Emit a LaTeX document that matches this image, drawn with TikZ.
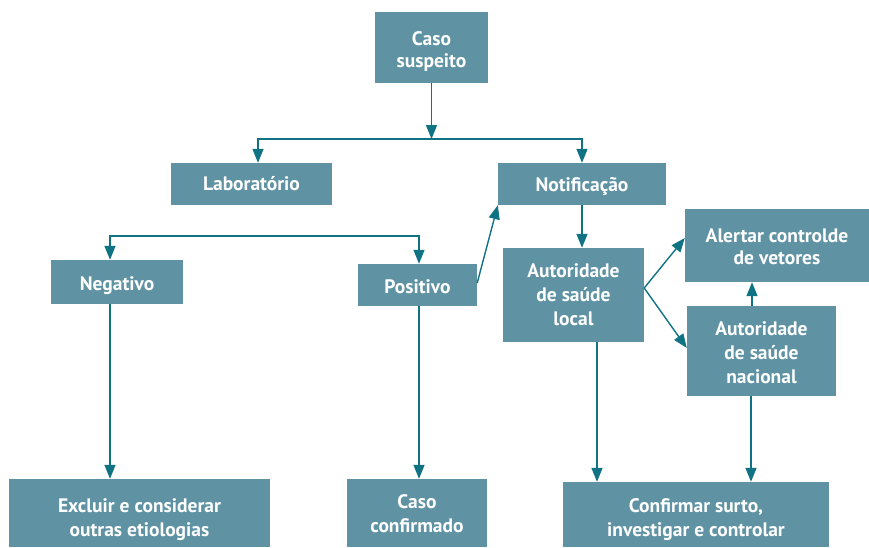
\documentclass[tikz,border=0pt]{standalone}
\usepackage{fontspec}
\setmainfont{PT Sans}
\usetikzlibrary{arrows.meta}
\definecolor{boxfill}{HTML}{5F93A3}
\definecolor{arrcol}{HTML}{0F7383}
\begin{document}
\begin{tikzpicture}[x=1pt,y=-1pt,
  box/.style={fill=boxfill,inner sep=0pt,anchor=center},
  bt/.style={text=white,font=\fontsize{19.5}{24}\selectfont\bfseries,align=center,inner sep=0pt},
  btn/.style={bt,font=\fontsize{19.5}{22.3}\selectfont\bfseries},
  arr/.style={draw=arrcol,line width=1.4pt,-{Triangle[length=14pt,width=11pt]}}]
\useasboundingbox (0,0) rectangle (869,547);
\node[box,minimum width=113pt,minimum height=71pt,
  label={[btn,yshift=-4pt]center:{Caso\\suspeito}}] (caso) at (431.5,47.5) {};
\node[box,minimum width=161pt,minimum height=42pt,
  label={[bt,yshift=0pt]center:{Laboratório}}] (lab) at (251.5,184) {};
\node[box,minimum width=168pt,minimum height=42pt,
  label={[bt,yshift=-2pt]center:{Notificação}}] (notif) at (582,184) {};
\node[box,minimum width=132pt,minimum height=44pt,
  label={[bt,yshift=-4pt]center:{Negativo}}] (neg) at (117,282) {};
\node[box,minimum width=119pt,minimum height=42pt,
  label={[bt,yshift=-1.5pt]center:{Positivo}}] (pos) at (417.5,285) {};
\node[box,minimum width=141pt,minimum height=94pt,
  label={[bt,yshift=0pt]center:{Autoridade\\de saúde\\local}}] (loc) at (573.5,295) {};
\node[box,minimum width=184pt,minimum height=73pt,
  label={[btn,yshift=-1pt]center:{Alertar controlde\\de vetores}}] (alert) at (777,245.5) {};
\node[box,minimum width=149pt,minimum height=90pt,
  label={[bt,yshift=-2pt]center:{Autoridade\\de saúde\\nacional}}] (nac) at (761.5,351) {};
\node[box,minimum width=261pt,minimum height=68pt,
  label={[bt,yshift=-7pt]center:{Excluir e considerar\\outras etiologias}}] (excl) at (139.5,513) {};
\node[box,minimum width=140pt,minimum height=68pt,
  label={[bt,yshift=-1pt]center:{Caso\\confirmado}}] (conf) at (417,513) {};
\node[box,minimum width=266pt,minimum height=65pt,
  label={[bt,yshift=-5pt]center:{Confirmar surto,\\investigar e controlar}}] (surto) at (696,514.5) {};
\coordinate (j1) at (431.5,139);
\coordinate (j2) at (264.5,236);
% top branch
\draw[arr] (caso.south) -- (j1);
\draw[arr] (j1) -| ([xshift=6.5pt]lab.north);
\draw[arr] (j1) -| (notif.north);
% lab results branch
\draw[arr] (j2) -| ([xshift=-7pt]neg.north);
\draw[arr] (j2) -| ([xshift=1.5pt]pos.north);
% positivo to notificacao
\draw[arr] ([yshift=2pt]pos.east) -- (notif.south west);
% notificacao to local
\draw[arr] (notif.south) -- (notif.south |- loc.north);
% local to alert / nacional
\draw[arr] ([yshift=7pt]loc.east) -- ([yshift=7.5pt]alert.west);
\draw[arr] ([yshift=7pt]loc.east) -- ([yshift=3pt]nac.west);
% nacional to alert
\draw[arr] ([xshift=-9.5pt]nac.north) -- ([xshift=-9.5pt]nac.north |- alert.south);
% down to bottom row
\draw[arr] ([xshift=-7pt]neg.south) -- ([xshift=-7pt]neg.south |- excl.north);
\draw[arr] ([xshift=1.5pt]pos.south) -- ([xshift=1.5pt]pos.south |- conf.north);
\draw[arr] ([xshift=23.5pt]loc.south) -- ([xshift=23.5pt]loc.south |- surto.north);
\draw[arr] ([xshift=-10.5pt]nac.south) -- ([xshift=-10.5pt]nac.south |- surto.north);
\end{tikzpicture}
\end{document}
